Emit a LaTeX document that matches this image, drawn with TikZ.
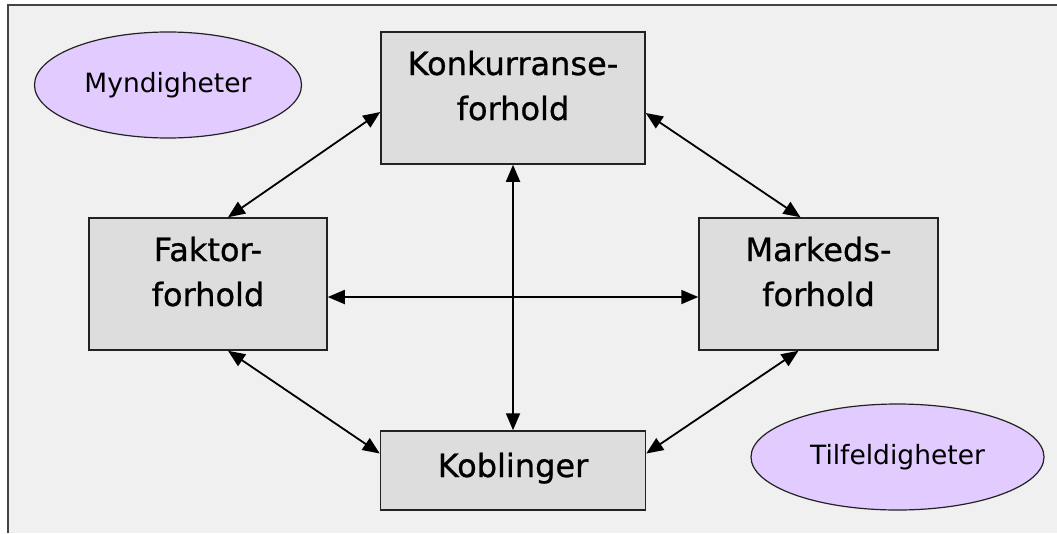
\documentclass[tikz,border=0pt]{standalone}
\usepackage{fontspec}
\setmainfont{DejaVu Sans}
\newfontfamily\boxfont[FakeBold=0.8]{DejaVu Sans}
\usetikzlibrary{arrows.meta,calc,shapes.geometric}
\definecolor{bgray}{HTML}{F0F0F0}
\definecolor{boxfill}{HTML}{DDDDDD}
\definecolor{ovalfill}{HTML}{E2CBFF}
\definecolor{edge}{HTML}{222222}
\begin{document}
\begin{tikzpicture}[x=1pt,y=-1pt,
  frame/.style={draw=edge!85!white,line width=2pt},
  box/.style={draw=edge,fill=boxfill,line width=1.5pt,inner sep=0pt},
  boxtext/.style={align=center,inner sep=0pt,anchor=base,font=\boxfont\fontsize{32}{45}\selectfont},
  oval/.style={ellipse,draw=edge,fill=ovalfill,line width=1.2pt,inner sep=0pt,font=\fontsize{26.5}{30}\selectfont},
  link/.style={line width=1.8pt,{Triangle[length=17pt,width=14pt]}-{Triangle[length=17pt,width=14pt]}}]
\useasboundingbox (0,0) rectangle (1057,533);
\fill[white] (0,0) rectangle (1057,533);
\fill[bgray] (8,5) rectangle (1057,533);
\draw[frame] (8,533) -- (8,5) -- (1057,5);
% boxes
\node[box,minimum width=264,minimum height=132] (k) at (513,98) {};
\node[box,minimum width=238,minimum height=132] (f) at (208,284) {};
\node[box,minimum width=239,minimum height=132] (m) at (818.5,284) {};
\node[box,minimum width=265,minimum height=79] (kb) at (513,470.5) {};
\node[boxtext] (kt) at (513,120) {Konkurranse-\\forhold};
\node[boxtext] (ft) at (208,306) {Faktor-\\forhold};
\node[boxtext] (mt) at (818.5,306) {Markeds-\\forhold};
\node[boxtext] (kbt) at (513,477) {Koblinger};
% ovals
\node[oval,minimum width=267,minimum height=106] (my) at (168,85) {Myndigheter};
\node[oval,minimum width=293,minimum height=106] (ti) at (897.5,457) {Tilfeldigheter};
% connectors
\draw[link] (k.south) -- (kb.north);
\draw[link] ($(f.east)+(0,13)$) -- ($(m.west)+(0,13)$);
\draw[link] ($(f.north)+(20,0)$) -- ($(k.west)+(0,14)$);
\draw[link] ($(k.east)+(0,15)$) -- ($(m.north)+(-18,0)$);
\draw[link] ($(f.south)+(20,0)$) -- ($(kb.west)+(0,-17)$);
\draw[link] ($(kb.east)+(0,-17)$) -- ($(m.south)+(-20,0)$);
\end{tikzpicture}
\end{document}
